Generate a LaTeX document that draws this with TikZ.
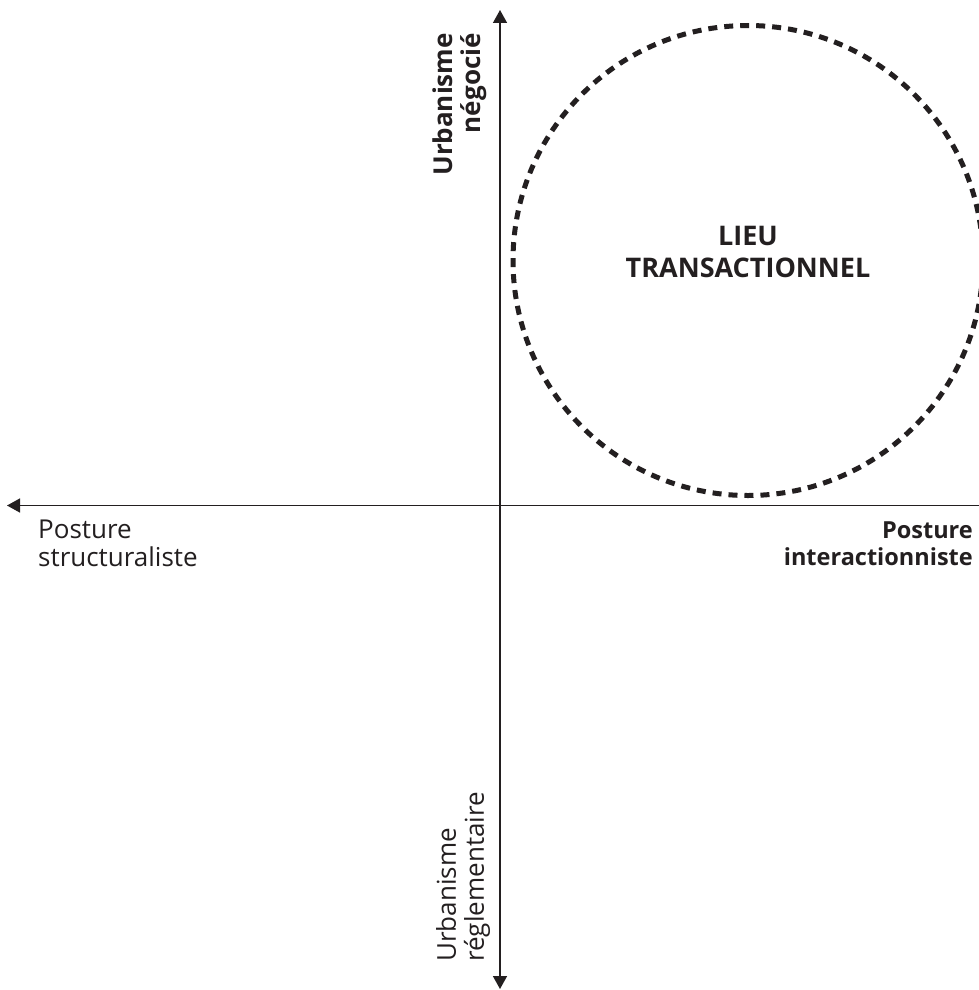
\documentclass[tikz,border=0pt]{standalone}
\usepackage{fontspec}
\setmainfont{Open Sans}
\usetikzlibrary{arrows.meta}
\definecolor{ink}{HTML}{231F20}
\begin{document}
\begin{tikzpicture}[x=1pt,y=-1pt,
  axisline/.style={line width=1.5pt,draw=ink},
  axis/.style={axisline,-{Triangle[length=13pt,width=14pt]}},
  lbl/.style={inner sep=0pt,text=ink,font=\fontsize{26}{28}\selectfont},
  blbl/.style={inner sep=0pt,text=ink,font=\fontsize{23.5}{27}\selectfont\bfseries},
  vblbl/.style={inner sep=0pt,text=ink,font=\fontsize{26}{28}\selectfont\bfseries},
  ring/.style={draw=ink,line width=5pt,dash pattern=on 9pt off 7pt}]
\useasboundingbox[fill=white] (0,0) rectangle (979,990);
\begin{scope}
\clip (0,0) rectangle (979,990);
\coordinate (O) at (500,505.5);
\coordinate (T) at (500,10);
\coordinate (B) at (500,989);
\coordinate (L) at (7,505.5);
\coordinate (R) at (979,505.5);
\draw[axis] (O) -- (T);
\draw[axis] (O) -- (B);
\draw[axis] (O) -- (L);
\draw[axisline] (O) -- (R);
\node[draw,circle,minimum size=470pt,ring,inner sep=0pt] (circ) at (748,260.5) {};
\node[inner sep=0pt,text=ink,align=center,font=\fontsize{27}{32}\selectfont\bfseries] (lieu) at (748,252) {LIEU\\TRANSACTIONNEL};
\end{scope}
\node[lbl,align=left,anchor=north west] (ps) at (38,520) {Posture\\structuraliste};
\node[blbl,align=right,anchor=north east] (pi) at (973,521.5) {Posture\\interactionniste};
\node[vblbl,align=right,rotate=90,anchor=north east] (un) at (433,33) {Urbanisme\\négocié};
\node[lbl,align=left,rotate=90,anchor=north west] (ur) at (436,962) {Urbanisme\\réglementaire};
\end{tikzpicture}
\end{document}
